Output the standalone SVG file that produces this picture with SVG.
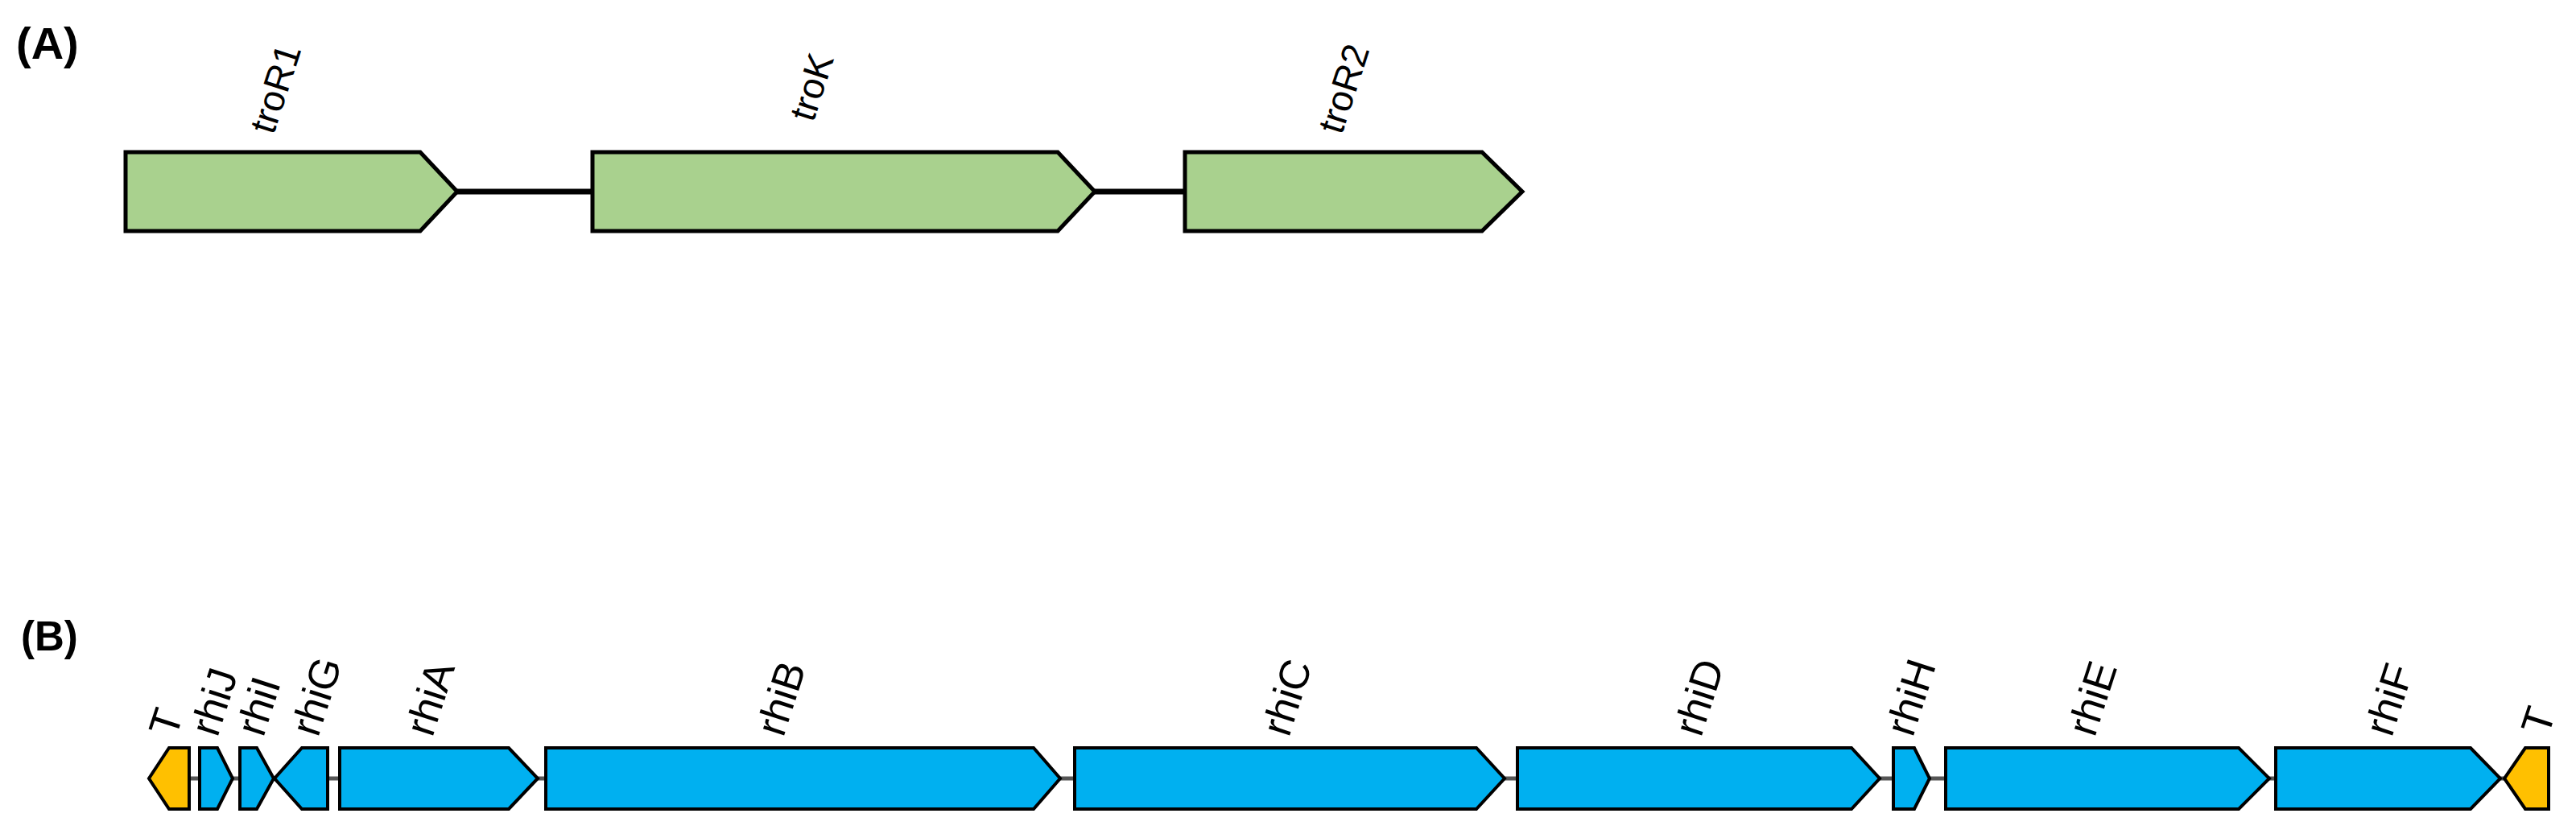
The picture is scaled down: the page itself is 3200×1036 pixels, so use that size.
<svg xmlns="http://www.w3.org/2000/svg" width="3200" height="1036" viewBox="0 0 3200 1036">
<style>
.panel{font-family:"Liberation Sans",Arial,sans-serif;font-weight:bold;fill:#000}
.lblA{font-family:"Liberation Sans",Arial,sans-serif;font-size:46px;fill:#000;text-anchor:middle;dominant-baseline:central}
.lblB{font-family:"Liberation Sans",Arial,sans-serif;font-size:52px;fill:#000}
.lblT{font-family:"Liberation Sans",Arial,sans-serif;font-size:52px;fill:#000;text-anchor:middle;dominant-baseline:central}
.gA{fill:#A9D18E;stroke:#000;stroke-width:5;stroke-linejoin:miter}
.gB{fill:#00B0F0;stroke:#000;stroke-width:4;stroke-linejoin:miter}
.gT{fill:#FFC000;stroke:#000;stroke-width:4;stroke-linejoin:miter}
</style>
<rect width="3200" height="1036" fill="#fff"/>
<text class="panel" x="20" y="73" font-size="56">(A)</text>
<text class="panel" x="26" y="808" font-size="51">(B)</text>
<g id="connectors">
<line x1="566" y1="238" x2="738" y2="238" stroke="#000" stroke-width="7"/>
<line x1="1358" y1="238" x2="1474" y2="238" stroke="#000" stroke-width="7"/>
<line x1="235" y1="967" x2="3111" y2="967" stroke="#555" stroke-width="5"/>
</g>
<g id="troR1"><polygon class="gA" points="156,189 522,189 568,238 522,287 156,287"/><text class="lblA" transform="translate(342,110) rotate(-72)">troR1</text></g>
<g id="troK"><polygon class="gA" points="736,189 1314,189 1360,238 1314,287 736,287"/><text class="lblA" transform="translate(1008,108) rotate(-72)">troK</text></g>
<g id="troR2"><polygon class="gA" points="1472,189 1841,189 1891,238 1841,287 1472,287"/><text class="lblA" transform="translate(1669,110) rotate(-72)">troR2</text></g>
<g id="T1"><polygon class="gT" points="235,929 210,929 185,967 210,1005 235,1005"/><text class="lblT" transform="translate(206,897) rotate(-72)">T</text></g>
<g id="rhiJ"><polygon class="gB" points="248,929 270,929 289,967 270,1005 248,1005"/><text class="lblB" transform="translate(270,917) rotate(-72)">rhiJ</text></g>
<g id="rhiI"><polygon class="gB" points="298,929 319,929 340,967 319,1005 298,1005"/><text class="lblB" transform="translate(327,917) rotate(-72)">rhiI</text></g>
<g id="rhiG"><polygon class="gB" points="407,929 375,929 341,967 375,1005 407,1005"/><text class="lblB" transform="translate(395,917) rotate(-72)">rhiG</text></g>
<g id="rhiA"><polygon class="gB" points="422,929 632,929 668,967 632,1005 422,1005"/><text class="lblB" transform="translate(537,917) rotate(-72)">rhiA</text></g>
<g id="rhiB"><polygon class="gB" points="678,929 1284,929 1317,967 1284,1005 678,1005"/><text class="lblB" transform="translate(973,917) rotate(-72)">rhiB</text></g>
<g id="rhiC"><polygon class="gB" points="1335,929 1834,929 1869,967 1834,1005 1335,1005"/><text class="lblB" transform="translate(1601,917) rotate(-72)">rhiC</text></g>
<g id="rhiD"><polygon class="gB" points="1885,929 2300,929 2335,967 2300,1005 1885,1005"/><text class="lblB" transform="translate(2113,917) rotate(-72)">rhiD</text></g>
<g id="rhiH"><polygon class="gB" points="2352,929 2378,929 2397,967 2378,1005 2352,1005"/><text class="lblB" transform="translate(2376,917) rotate(-72)">rhiH</text></g>
<g id="rhiE"><polygon class="gB" points="2417,929 2781,929 2819,967 2781,1005 2417,1005"/><text class="lblB" transform="translate(2602,917) rotate(-72)">rhiE</text></g>
<g id="rhiF"><polygon class="gB" points="2827,929 3069,929 3106,967 3069,1005 2827,1005"/><text class="lblB" transform="translate(2971,917) rotate(-72)">rhiF</text></g>
<g id="T2"><polygon class="gT" points="3166,929 3137,929 3111,967 3137,1005 3166,1005"/><text class="lblT" transform="translate(3153,895) rotate(-72)">T</text></g>
</svg>
